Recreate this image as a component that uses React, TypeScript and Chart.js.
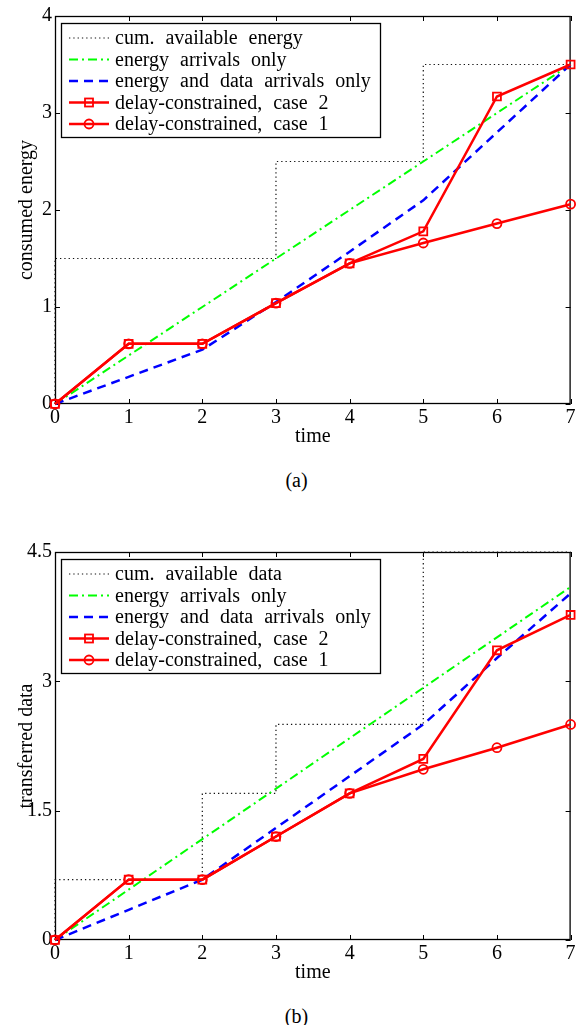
import React, { useEffect, useRef } from 'react';
import { Chart, registerables } from 'chart.js';
Chart.register(...registerables);

// ---------- data ----------
const times = [0, 1, 2, 3, 4, 5, 6, 7];
const xTicks = [0, 1, 2, 3, 4, 5, 6, 7];

// panel (a)
const energyCumX = [0, 0, 3, 3, 5, 5, 7];
const energyCumY = [0, 1.5, 1.5, 2.5, 2.5, 3.5, 3.5];
const energyArrivalsA = [0, 0.5, 1, 1.5, 2, 2.5, 3, 3.5];
const energyDataA = [0, 0.28, 0.56, 1.05, 1.57, 2.1, 2.8, 3.5];
const case2A = [0, 0.62, 0.62, 1.04, 1.45, 1.78, 3.17, 3.5];
const case1A = [0, 0.62, 0.62, 1.04, 1.45, 1.66, 1.86, 2.06];
const yTicksA = [0, 1, 2, 3, 4];
const labelsA = [
  'cum. available energy',
  'energy arrivals only',
  'energy and data arrivals only',
  'delay-constrained, case 2',
  'delay-constrained, case 1',
];

// panel (b)
const dataCumX = [0, 0, 2, 2, 3, 3, 5, 5, 7];
const dataCumY = [0, 0.7, 0.7, 1.7, 1.7, 2.5, 2.5, 4.5, 4.5];
const energyArrivalsB = [0, 0.585, 1.17, 1.755, 2.34, 2.925, 3.51, 4.095];
const energyDataB = [0, 0.35, 0.7, 1.3, 1.9, 2.5, 3.27, 4.02];
const case2B = [0, 0.7, 0.7, 1.2, 1.7, 2.1, 3.36, 3.77];
const case1B = [0, 0.7, 0.7, 1.2, 1.7, 1.98, 2.23, 2.5];
const yTicksB = [0, 1.5, 3, 4.5];
const labelsB = [
  'cum. available data',
  'energy arrivals only',
  'energy and data arrivals only',
  'delay-constrained, case 2',
  'delay-constrained, case 1',
];

const FONT = '"Liberation Serif", "DejaVu Serif", serif';

const pts = (xs: number[], ys: number[]) => xs.map((x, i) => ({ x, y: ys[i] }));

// ---------- plugins ----------
const framePlugin = {
  id: 'frame',
  beforeDatasetsDraw(chart: any) {
    const { ctx, chartArea: a, scales } = chart;
    ctx.save();
    ctx.strokeStyle = '#000';
    ctx.lineWidth = 1.3;
    ctx.setLineDash([]);
    ctx.strokeRect(a.left + 0.5, a.top + 0.5, a.right - a.left - 1, a.bottom - a.top - 1);
    const L = 5;
    ctx.lineWidth = 1;
    ctx.beginPath();
    scales.x.ticks.forEach((t: any) => {
      const px = Math.round(scales.x.getPixelForValue(t.value)) + 0.5;
      ctx.moveTo(px, a.bottom);
      ctx.lineTo(px, a.bottom - L);
      ctx.moveTo(px, a.top);
      ctx.lineTo(px, a.top + L);
    });
    scales.y.ticks.forEach((t: any) => {
      const py = Math.round(scales.y.getPixelForValue(t.value)) + 0.5;
      ctx.moveTo(a.left, py);
      ctx.lineTo(a.left + L, py);
      ctx.moveTo(a.right, py);
      ctx.lineTo(a.right - L, py);
    });
    ctx.stroke();
    ctx.restore();
  },
};

const boxLegendPlugin = {
  id: 'boxLegend',
  afterDraw(chart: any, _args: any, opts: any) {
    const { ctx, chartArea: a } = chart;
    const x0 = a.left + opts.dx;
    const y0 = a.top + opts.dy;
    ctx.save();
    ctx.fillStyle = '#fff';
    ctx.fillRect(x0, y0, opts.w, opts.h);
    ctx.strokeStyle = '#000';
    ctx.lineWidth = 1.3;
    ctx.setLineDash([]);
    ctx.strokeRect(x0 + 0.5, y0 + 0.5, opts.w, opts.h);
    chart.data.datasets.forEach((ds: any, i: number) => {
      const cy = y0 + opts.firstRow + i * opts.rowGap;
      const lx0 = x0 + 8;
      const lx1 = x0 + 48;
      ctx.strokeStyle = ds.borderColor;
      ctx.lineWidth = ds.borderWidth;
      ctx.setLineDash(ds.borderDash || []);
      ctx.beginPath();
      ctx.moveTo(lx0, cy);
      ctx.lineTo(lx1, cy);
      ctx.stroke();
      ctx.setLineDash([]);
      const mx = (lx0 + lx1) / 2;
      if (ds.pointStyle === 'rect' && ds.pointRadius > 0) {
        ctx.lineWidth = ds.pointBorderWidth;
        ctx.strokeRect(mx - 4, cy - 4, 8, 8);
      } else if (ds.pointStyle === 'circle' && ds.pointRadius > 0) {
        ctx.lineWidth = ds.pointBorderWidth;
        ctx.beginPath();
        ctx.arc(mx, cy, ds.pointRadius, 0, Math.PI * 2);
        ctx.stroke();
      }
      ctx.fillStyle = '#000';
      ctx.font = `20px ${FONT}`;
      (ctx as any).wordSpacing = '6px';
      ctx.textBaseline = 'middle';
      ctx.textAlign = 'left';
      ctx.fillText(ds.label, x0 + 54, cy + 1);
    });
    ctx.restore();
  },
};

// ---------- panel ----------
type PanelProps = {
  top: number;
  caption: string;
  yTitle: string;
  yMax: number;
  yTicks: number[];
  labels: string[];
  cumX: number[];
  cumY: number[];
  arrivals: number[];
  energyData: number[];
  case2: number[];
  case1: number[];
};

function Panel(p: PanelProps) {
  const ref = useRef<HTMLCanvasElement | null>(null);
  useEffect(() => {
    if (!ref.current) return;
    const chart = new Chart(ref.current, {
      type: 'line',
      data: {
        datasets: [
          {
            label: p.labels[0],
            data: pts(p.cumX, p.cumY),
            borderColor: '#111',
            borderWidth: 1.2,
            borderDash: [1.3, 3],
            pointRadius: 0,
            pointStyle: false as any,
            order: 4,
            clip: false as any,
          },
          {
            label: p.labels[1],
            data: pts(times, p.arrivals),
            borderColor: '#00ff00',
            borderWidth: 2,
            borderDash: [9, 4, 2, 4],
            pointRadius: 0,
            pointStyle: false as any,
            order: 3,
            clip: false as any,
          },
          {
            label: p.labels[2],
            data: pts(times, p.energyData),
            borderColor: '#0000ff',
            borderWidth: 2.5,
            borderDash: [9, 6],
            pointRadius: 0,
            pointStyle: false as any,
            order: 2,
            clip: false as any,
          },
          {
            label: p.labels[3],
            data: pts(times, p.case2),
            borderColor: '#ff0000',
            borderWidth: 2.5,
            pointStyle: 'rect',
            pointRadius: 5.6,
            pointBorderWidth: 1.8,
            pointBackgroundColor: 'rgba(0,0,0,0)',
            pointBorderColor: '#ff0000',
            order: 1,
            clip: false as any,
          },
          {
            label: p.labels[4],
            data: pts(times, p.case1),
            borderColor: '#ff0000',
            borderWidth: 2.5,
            pointStyle: 'circle',
            pointRadius: 4.5,
            pointBorderWidth: 1.8,
            pointBackgroundColor: 'rgba(0,0,0,0)',
            pointBorderColor: '#ff0000',
            order: 0,
            clip: false as any,
          },
        ] as any,
      },
      options: {
        animation: false,
        responsive: false,
        devicePixelRatio: 1,
        layout: { padding: { top: 16, left: 0, right: 5, bottom: 0 } },
        plugins: {
          legend: { display: false },
          tooltip: { enabled: false },
          boxLegend: { dx: 6, dy: 7, w: 319, h: 114, firstRow: 15, rowGap: 21.5 },
        } as any,
        scales: {
          x: {
            type: 'linear',
            min: 0,
            max: 7,
            afterBuildTicks: (s: any) => {
              s.ticks = xTicks.map((v) => ({ value: v }));
            },
            afterFit: (s: any) => {
              s.height = 56;
            },
            grid: { display: false, drawTicks: false },
            border: { display: false },
            ticks: {
              color: '#000',
              font: { family: FONT, size: 20 },
              padding: 2,
              maxRotation: 0,
              autoSkip: false,
            },
            title: {
              display: true,
              text: 'time',
              color: '#000',
              font: { family: FONT, size: 20 },
              padding: { top: 0, bottom: 11 },
            },
          },
          y: {
            type: 'linear',
            min: 0,
            max: p.yMax,
            afterBuildTicks: (s: any) => {
              s.ticks = p.yTicks.map((v) => ({ value: v }));
            },
            afterFit: (s: any) => {
              s.width = 55;
            },
            grid: { display: false, drawTicks: false },
            border: { display: false },
            ticks: {
              color: '#000',
              font: { family: FONT, size: 20 },
              padding: 3,
              autoSkip: false,
              callback: (v: any) => String(v),
            },
            title: {
              display: true,
              text: p.yTitle,
              color: '#000',
              font: { family: FONT, size: 20 },
              padding: { top: 15, bottom: 0 },
            },
          },
        },
      } as any,
      plugins: [framePlugin, boxLegendPlugin] as any,
    });
    return () => chart.destroy();
  }, []);

  return (
    <>
      <canvas
        ref={ref}
        width={578}
        height={460}
        style={{ position: 'absolute', left: 0, top: p.top, width: 578, height: 460, display: 'block' }}
      />
      <div
        style={{
          position: 'absolute',
          left: 0,
          top: p.top + 468,
          width: 593,
          textAlign: 'center',
          fontFamily: FONT,
          fontSize: 20,
          lineHeight: '24px',
          color: '#000',
        }}
      >
        {p.caption}
      </div>
    </>
  );
}

export default function App() {
  return (
    <div style={{ position: 'absolute', left: 0, top: 0, width: 578, height: 1025, background: '#fff' }}>
      <Panel
        top={0}
        caption="(a)"
        yTitle="consumed energy"
        yMax={4}
        yTicks={yTicksA}
        labels={labelsA}
        cumX={energyCumX}
        cumY={energyCumY}
        arrivals={energyArrivalsA}
        energyData={energyDataA}
        case2={case2A}
        case1={case1A}
      />
      <Panel
        top={536}
        caption="(b)"
        yTitle="transferred data"
        yMax={4.5}
        yTicks={yTicksB}
        labels={labelsB}
        cumX={dataCumX}
        cumY={dataCumY}
        arrivals={energyArrivalsB}
        energyData={energyDataB}
        case2={case2B}
        case1={case1B}
      />
    </div>
  );
}
